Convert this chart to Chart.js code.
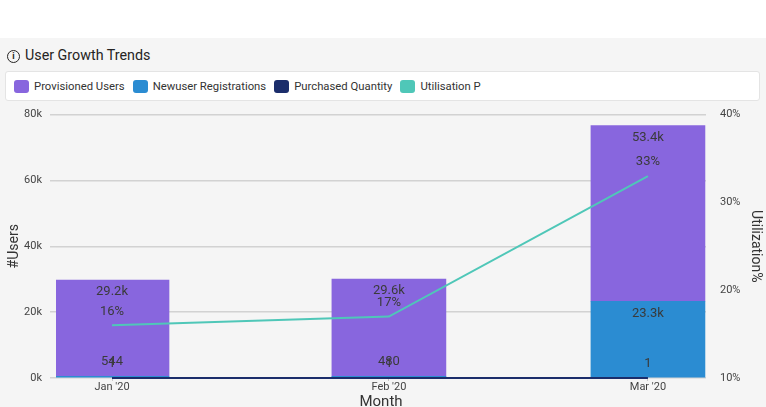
<!DOCTYPE html>
<html>
<head>
<meta charset="utf-8">
<script src="https://cdn.jsdelivr.net/npm/chart.js@4"></script>
<style>
  html, body { margin: 0; padding: 0; }
  body { width: 766px; height: 407px; overflow: hidden; background: #f5f5f5; position: relative; font-family: Roboto, "Noto Sans", sans-serif; color: #252423; }
  .topbar { position: absolute; left: 0; top: 0; width: 766px; height: 38px; background: #fff; }
  .title { position: absolute; left: 7px; top: 45px; font-size: 14.3px; line-height: 20px; }
  .title .info { display: inline-block; width: 11px; height: 11px; border: 1.3px solid #252423; border-radius: 50%; font-size: 9px; line-height: 11px; text-align: center; font-weight: bold; margin-right: 5px; vertical-align: 1px; }
  .legend { position: absolute; left: 5px; top: 71px; width: 755px; height: 30px; background: #fff; border: 1px solid #e4e4e4; border-radius: 3px; box-sizing: border-box; display: flex; align-items: center; padding-left: 8px; font-size: 11.3px; color: #333; }
  .legend .item { display: flex; align-items: center; margin-right: 8px; }
  .legend .sw { width: 15px; height: 13px; border-radius: 3px; margin-right: 5px; }
  #wrap { position: absolute; left: 0; top: 100px; width: 766px; height: 315px; }
</style>
</head>
<body>
<div class="topbar"></div>
<div class="title"><span class="info">i</span>User Growth Trends</div>
<div class="legend" id="legend"></div>
<div id="wrap"><canvas id="myChart"></canvas></div>
<script>
const months = ["Jan '20", "Feb '20", "Mar '20"]
const monthStarts = ['2020-01-01', '2020-02-01', '2020-03-01']
const provisionedUsers = [29200, 29600, 53400]
const newuserRegistrations = [544, 480, 23300]
const purchasedQuantity = [1, 1, 1]
const utilisation = [16, 17, 33]
const usersTicks = [0, 20000, 40000, 60000, 80000]
const utilTicks = [10, 20, 30, 40]

const colors = {
  provisioned: '#8866de',
  newuser: '#2b8cd2',
  purchased: '#1b2d6b',
  util: '#4fc7b8'
}

// legend box in html
const legendItems = [
  ['Provisioned Users', colors.provisioned],
  ['Newuser Registrations', colors.newuser],
  ['Purchased Quantity', colors.purchased],
  ['Utilisation P', colors.util]
]
document.getElementById('legend').innerHTML = legendItems.map(([t, c]) =>
  `<div class="item"><div class="sw" style="background:${c}"></div>${t}</div>`).join('')

// continuous date axis, in days from the first month
const DAY = 86400000
const dayX = monthStarts.map(d => (Date.parse(d) - Date.parse(monthStarts[0])) / DAY)
const pts = (arr) => arr.map((v, i) => ({ x: dayX[i], y: v }))

const fmt = (v) => v >= 1000 ? (v / 1000).toFixed(1) + 'k' : String(v)

// labels like power bi data labels
const labelPlugin = {
  id: 'labels',
  afterDatasetsDraw(chart) {
    const ctx = chart.ctx
    ctx.save()
    ctx.font = '13px Roboto'
    ctx.fillStyle = '#3a3a3a'
    ctx.textAlign = 'center'
    ctx.textBaseline = 'middle'
    chart.data.datasets.forEach((ds, i) => {
      const meta = chart.getDatasetMeta(i)
      meta.data.forEach((el, j) => {
        const v = ds.data[j].y
        if (ds.type === 'bar') {
          let cy = el.y + 12
          if (cy > el.base - 16) cy = el.base - 16
          ctx.fillText(fmt(v), el.x, cy)
        } else {
          const txt = ds.yAxisID === 'y1' ? v + '%' : fmt(v)
          ctx.fillText(txt, el.x, el.y - 14)
        }
      })
    })
    ctx.restore()
  }
}

const tickFont = { family: 'Roboto', size: 11 }
const titleFont = { family: 'Roboto', size: 14 }

new Chart('myChart', {
  data: {
    datasets: [
      {
        type: 'bar', label: 'Provisioned Users', data: pts(provisionedUsers),
        backgroundColor: colors.provisioned, barThickness: 114, order: 2, stack: 'users'
      },
      {
        type: 'bar', label: 'Newuser Registrations', data: pts(newuserRegistrations),
        backgroundColor: colors.newuser, barThickness: 114, order: 1, stack: 'users'
      },
      {
        type: 'line', label: 'Purchased Quantity', data: pts(purchasedQuantity),
        borderColor: colors.purchased, borderWidth: 2, pointRadius: 0, order: 0,
        stack: 'pq', clip: false
      },
      {
        type: 'line', label: 'Utilisation P', data: pts(utilisation), yAxisID: 'y1',
        borderColor: colors.util, borderWidth: 2, pointRadius: 0, order: 0, clip: false
      }
    ]
  },
  plugins: [labelPlugin],
  options: {
    responsive: true,
    maintainAspectRatio: false,
    animation: false,
    layout: { padding: { top: 13 } },
    plugins: { legend: { display: false }, tooltip: { enabled: false } },
    scales: {
      x: {
        type: 'linear', min: -6.27, max: 66.5, stacked: true, offset: false,
        afterBuildTicks: (s) => { s.ticks = dayX.map(v => ({ value: v })) },
        afterFit: (s) => { s.height = 37 },
        ticks: { callback: (v) => months[dayX.indexOf(v)], font: tickFont, color: '#444', padding: 0, maxRotation: 0 },
        grid: { drawOnChartArea: false, offset: false, tickLength: 3, color: '#c8c8c8' },
        border: { display: false },
        title: { display: true, text: 'Month', font: { family: 'Roboto', size: 15 }, color: '#333', padding: { top: 0, bottom: 4 } }
      },
      y: {
        stacked: true, min: 0, max: 80000,
        afterBuildTicks: (s) => { s.ticks = usersTicks.map(v => ({ value: v })) },
        afterFit: (s) => { s.width = 56 },
        ticks: { callback: (v) => (v / 1000) + 'k', font: tickFont, color: '#444', padding: 8 },
        grid: { color: '#d2d2d2', lineWidth: 1.5, tickLength: 6 },
        border: { display: false },
        title: { display: true, text: '#Users', font: titleFont, color: '#333', padding: { top: 6, bottom: 0 } }
      },
      y1: {
        position: 'right', min: 10, max: 40,
        afterBuildTicks: (s) => { s.ticks = utilTicks.map(v => ({ value: v })) },
        afterFit: (s) => { s.width = 60 },
        ticks: { callback: (v) => v + '%', font: tickFont, color: '#444', padding: 6 },
        grid: { display: false },
        border: { display: false },
        title: { display: true, text: 'Utilization%', font: titleFont, color: '#333', padding: { top: 2, bottom: 4 } }
      }
    }
  }
})
</script>
</body>
</html>
